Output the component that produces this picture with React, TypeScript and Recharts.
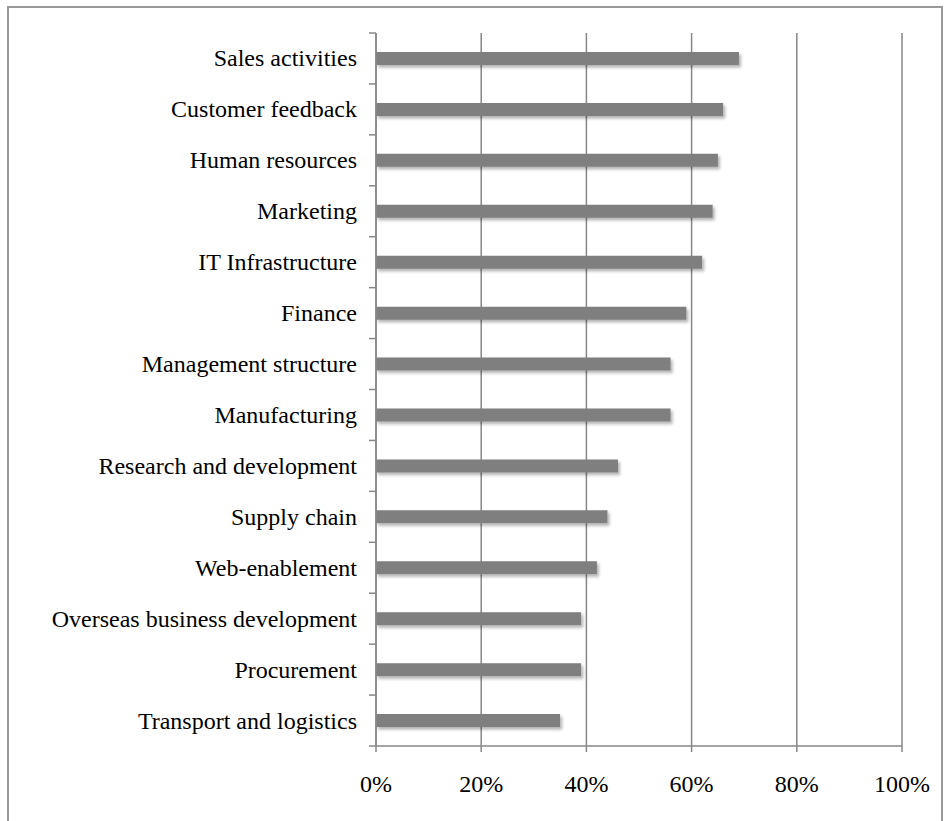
import React from "react";
import { BarChart, Bar, XAxis, YAxis, CartesianGrid, Rectangle } from "recharts";

const categories = [
  "Sales activities",
  "Customer feedback",
  "Human resources",
  "Marketing",
  "IT Infrastructure",
  "Finance",
  "Management structure",
  "Manufacturing",
  "Research and development",
  "Supply chain",
  "Web-enablement",
  "Overseas business development",
  "Procurement",
  "Transport and logistics",
];
const values = [69, 66, 65, 64, 62, 59, 56, 56, 46, 44, 42, 39, 39, 35];
const xTicks = [0, 20, 40, 60, 80, 100];

const data = categories.map((name, i) => ({ name, value: values[i] }));

const CHART_W = 932;
const CHART_H = 820;
const MARGIN = { top: 25, right: 39, left: 0, bottom: 0 };
const Y_W = 367;
const X_H = 82;
const PLOT_H = CHART_H - MARGIN.top - MARGIN.bottom - X_H;
const BAND = PLOT_H / categories.length;
const GRAY = "#878787";
const FONT = "'Liberation Serif', 'Times New Roman', serif";

const YTick = (props: any) => {
  const { y, payload, index } = props;
  const last = index === categories.length - 1;
  return (
    <g>
      <line x1={Y_W - 7} x2={Y_W} y1={y - BAND / 2} y2={y - BAND / 2} stroke={GRAY} strokeWidth={1.5} />
      {last && (
        <line x1={Y_W - 7} x2={Y_W} y1={y + BAND / 2} y2={y + BAND / 2} stroke={GRAY} strokeWidth={1.5} />
      )}
      <text x={Y_W - 19} y={y + 8} textAnchor="end" fontFamily={FONT} fontSize={24} fill="#000">
        {payload.value}
      </text>
    </g>
  );
};

const XTick = (props: any) => {
  const { x, y, payload } = props;
  return (
    <text x={x} y={y} dy={40} textAnchor="middle" fontFamily={FONT} fontSize={24} fill="#000">
      {payload.value}%
    </text>
  );
};

const ShadowBar = (props: any) => (
  <Rectangle {...props} fill="#7f7f7f" filter="url(#barShadow)" />
);

export default function App() {
  return (
    <div
      style={{
        position: "fixed",
        left: 7,
        top: 6,
        width: 932,
        height: 830,
        border: "2px solid #999999",
        borderBottom: "none",
        background: "#fff",
      }}
    >
      <BarChart
        layout="vertical"
        width={CHART_W}
        height={CHART_H}
        data={data}
        margin={MARGIN}
        barSize={13}
      >
        <defs>
          <filter id="barShadow" x="-5%" y="-50%" width="110%" height="250%">
            <feDropShadow dx={2} dy={2.5} stdDeviation={1.5} floodColor="#000" floodOpacity={0.3} />
          </filter>
        </defs>
        <CartesianGrid horizontal={false} stroke={GRAY} strokeWidth={1.5} />
        <XAxis
          type="number"
          domain={[0, 100]}
          ticks={xTicks}
          interval={0}
          height={X_H}
          axisLine={{ stroke: GRAY, strokeWidth: 1.5 }}
          tickLine={{ stroke: GRAY, strokeWidth: 1.5 }}
          tickSize={6}
          tickMargin={0}
          tick={<XTick />}
        />
        <YAxis
          type="category"
          dataKey="name"
          width={Y_W}
          interval={0}
          axisLine={{ stroke: GRAY, strokeWidth: 1.5 }}
          tickLine={false}
          tick={<YTick />}
        />
        <Bar dataKey="value" isAnimationActive={false} shape={<ShadowBar />} />
      </BarChart>
    </div>
  );
}
